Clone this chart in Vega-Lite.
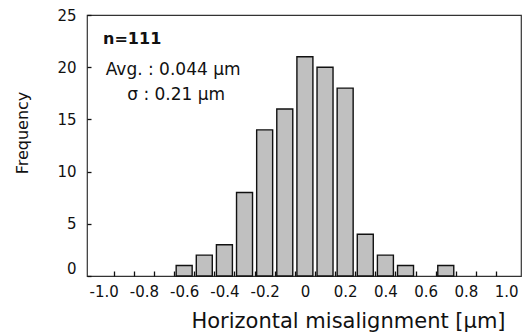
{
  "$schema": "https://vega.github.io/schema/vega-lite/v6.json",
  "width": 434,
  "height": 261,
  "autosize": {"type": "none"},
  "padding": {"left": 87, "top": 15, "right": 7, "bottom": 57},
  "background": "white",
  "config": {
    "view": {"stroke": "#333", "strokeWidth": 1.2},
    "font": "DejaVu Sans",
    "text": {"font": "DejaVu Sans", "color": "#111"}
  },
  "data": {
    "values": [
      {"misalignment": -0.6, "frequency": 1},
      {"misalignment": -0.5, "frequency": 2},
      {"misalignment": -0.4, "frequency": 3},
      {"misalignment": -0.3, "frequency": 8},
      {"misalignment": -0.2, "frequency": 14},
      {"misalignment": -0.1, "frequency": 16},
      {"misalignment": 0.0, "frequency": 21},
      {"misalignment": 0.1, "frequency": 20},
      {"misalignment": 0.2, "frequency": 18},
      {"misalignment": 0.3, "frequency": 4},
      {"misalignment": 0.4, "frequency": 2},
      {"misalignment": 0.5, "frequency": 1},
      {"misalignment": 0.7, "frequency": 1}
    ]
  },
  "layer": [
    {
      "mark": {"type": "bar", "width": 16, "fill": "#c0c0c0", "stroke": "#111", "strokeWidth": 1.4},
      "encoding": {
        "x": {
          "field": "misalignment",
          "type": "quantitative",
          "scale": {"domain": [-1.058, 1.049], "nice": false, "zero": false},
          "axis": {
            "values": [-1.0, -0.95, -0.85, -0.8, -0.75, -0.65, -0.6, -0.55, -0.45, -0.4, -0.35, -0.25, -0.2, -0.15, -0.05, 0, 0.05, 0.15, 0.2, 0.25, 0.35, 0.4, 0.45, 0.55, 0.6, 0.65, 0.75, 0.8, 0.85, 0.95, 1.0],
            "tickCount": 100,
            "domain": false,
            "grid": false,
            "tickSize": -5,
            "tickColor": "#111",
            "tickWidth": 1.3,
            "tickOpacity": {"condition": {"test": "abs(round(datum.value*20)) % 2 == 1", "value": 1}, "value": 0},
            "labelExpr": "abs(round(datum.value*20)) % 4 == 0 ? (datum.value == 0 ? '0' : replace(format(datum.value, '.1f'), '\u2212', '-')) : ''",
            "labelOverlap": false,
            "labelFlush": false,
            "labelFont": "DejaVu Sans",
            "labelFontSize": 15,
            "labelColor": "#111",
            "labelPadding": 13,
            "title": "Horizontal misalignment [μm]",
            "titleFont": "DejaVu Sans",
            "titleFontSize": 21,
            "titleFontWeight": "normal",
            "titleColor": "#111",
            "titleX": 261,
            "titleY": 51,
            "titleAlign": "center",
            "titleBaseline": "alphabetic"
          }
        },
        "y": {
          "field": "frequency",
          "type": "quantitative",
          "scale": {"domain": [0, 25], "nice": false},
          "axis": {
            "values": [0, 5, 10, 15, 20, 25],
            "tickCount": 100,
            "format": "d",
            "domain": false,
            "grid": false,
            "tickSize": -4,
            "tickColor": "#111",
            "tickWidth": 1.3,
            "labelFont": "DejaVu Sans",
            "labelFontSize": 15,
            "labelColor": "#111",
            "labelPadding": 15,
            "labelBaseline": {"condition": {"test": "datum.value == 0", "value": "bottom"}, "value": "middle"},
            "title": "Frequency",
            "titleFont": "DejaVu Sans",
            "titleFontSize": 16,
            "titleFontWeight": "normal",
            "titleColor": "#111",
            "titleX": -60,
            "titleY": 117.5,
            "titleAlign": "center",
            "titleBaseline": "alphabetic"
          }
        }
      }
    },
    {
      "data": {"values": [{"label": "n=111"}]},
      "mark": {"type": "text", "align": "left", "baseline": "alphabetic", "fontSize": 16, "fontWeight": "bold"},
      "encoding": {"x": {"datum": -1.003}, "y": {"datum": 22.2}, "text": {"field": "label"}}
    },
    {
      "data": {"values": [{"label": "Avg. : 0.044 μm"}]},
      "mark": {"type": "text", "align": "left", "baseline": "alphabetic", "fontSize": 17},
      "encoding": {"x": {"datum": -0.99}, "y": {"datum": 19.25}, "text": {"field": "label"}}
    },
    {
      "data": {"values": [{"label": "σ : 0.21 μm"}]},
      "mark": {"type": "text", "align": "left", "baseline": "alphabetic", "fontSize": 17},
      "encoding": {"x": {"datum": -0.883}, "y": {"datum": 16.86}, "text": {"field": "label"}}
    }
  ]
}
